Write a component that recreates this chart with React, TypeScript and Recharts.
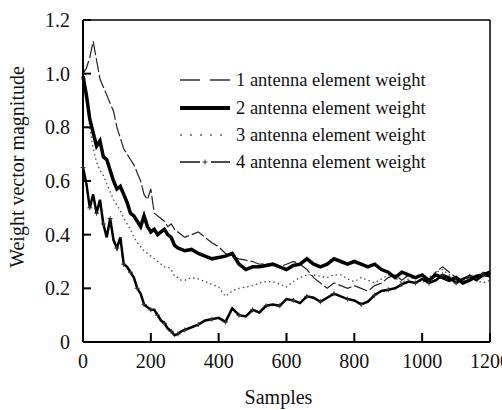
import React from "react";
import { LineChart, Line, XAxis, YAxis } from "recharts";

const samples = [
  0, 10, 20, 30, 40, 50, 60, 70, 80, 90, 100, 110, 120, 130, 140, 150, 160, 170, 180, 190,
  200, 210, 220, 230, 240, 250, 260, 270, 280, 290, 300, 320, 340, 360, 380, 400, 420, 440,
  460, 480, 500, 520, 540, 560, 580, 600, 620, 640, 660, 680, 700, 720, 740, 760, 780, 800,
  820, 840, 860, 880, 900, 920, 940, 960, 980, 1000, 1020, 1040, 1060, 1080, 1100, 1120,
  1140, 1160, 1180, 1200,
];

const weight1 = [
  1.0, 1.02, 1.06, 1.12, 1.05, 0.98, 0.95, 0.92, 0.89, 0.86, 0.8, 0.76, 0.72, 0.7, 0.68, 0.66,
  0.63, 0.6, 0.55, 0.53, 0.57, 0.48, 0.47, 0.46, 0.45, 0.43, 0.44, 0.42, 0.41, 0.4, 0.39, 0.4,
  0.41, 0.39, 0.37, 0.355, 0.33, 0.32, 0.31, 0.305, 0.3, 0.29, 0.29, 0.29, 0.28, 0.29, 0.3,
  0.29, 0.27, 0.24, 0.22, 0.2, 0.22, 0.21, 0.2, 0.21, 0.2, 0.19, 0.21, 0.22, 0.24, 0.25, 0.23,
  0.25, 0.24, 0.25, 0.23, 0.26, 0.28, 0.26, 0.24, 0.23, 0.25, 0.24, 0.26, 0.25,
];

const weight2 = [
  0.99, 0.92, 0.83, 0.78, 0.73, 0.75, 0.69, 0.68, 0.64, 0.6, 0.57, 0.58, 0.55, 0.52, 0.48,
  0.47, 0.45, 0.43, 0.47, 0.43, 0.41, 0.42, 0.4, 0.41, 0.42, 0.4, 0.39, 0.36, 0.35, 0.345,
  0.34, 0.345, 0.33, 0.32, 0.31, 0.315, 0.32, 0.33, 0.29, 0.27, 0.28, 0.28, 0.285, 0.29, 0.28,
  0.27, 0.285, 0.29, 0.31, 0.29, 0.28, 0.29, 0.31, 0.3, 0.29, 0.3, 0.29, 0.28, 0.29, 0.27,
  0.26, 0.24, 0.26, 0.25, 0.24, 0.25, 0.23, 0.25, 0.24, 0.23, 0.24, 0.22, 0.23, 0.245, 0.25,
  0.26,
];

const weight3 = [
  1.05, 0.92, 0.8, 0.72, 0.67, 0.64, 0.62, 0.59, 0.56, 0.53, 0.51, 0.49, 0.46, 0.44, 0.42,
  0.39, 0.37, 0.355, 0.34, 0.33, 0.32, 0.31, 0.3, 0.29, 0.28, 0.28, 0.27, 0.245, 0.24, 0.23,
  0.23, 0.24, 0.235, 0.225, 0.215, 0.205, 0.17, 0.19, 0.2, 0.205, 0.21, 0.22, 0.225, 0.225,
  0.215, 0.205, 0.225, 0.24, 0.25, 0.25, 0.245, 0.24, 0.25, 0.25, 0.235, 0.225, 0.24, 0.23,
  0.22, 0.235, 0.25, 0.24, 0.22, 0.235, 0.24, 0.22, 0.24, 0.26, 0.27, 0.25, 0.23, 0.22, 0.24,
  0.23, 0.22, 0.23,
];

const weight4 = [
  0.65, 0.59, 0.5, 0.55, 0.48, 0.53, 0.44, 0.39, 0.46, 0.38, 0.35, 0.39, 0.29, 0.28, 0.26,
  0.24, 0.2, 0.18, 0.14, 0.13, 0.12, 0.12, 0.1, 0.08, 0.07, 0.05, 0.04, 0.025, 0.03, 0.04,
  0.045, 0.055, 0.065, 0.08, 0.085, 0.09, 0.075, 0.125, 0.1, 0.095, 0.12, 0.11, 0.135, 0.14,
  0.135, 0.16, 0.155, 0.145, 0.17, 0.165, 0.15, 0.165, 0.18, 0.17, 0.16, 0.155, 0.14, 0.15,
  0.175, 0.19, 0.195, 0.2, 0.215, 0.225, 0.22, 0.235, 0.22, 0.23, 0.25, 0.24, 0.22, 0.235,
  0.245, 0.23, 0.25, 0.245,
];

const xTicks = [0, 200, 400, 600, 800, 1000, 1200];
const yTicks = [0, 0.2, 0.4, 0.6, 0.8, 1.0, 1.2];
const legendLabels = [
  "1 antenna element weight",
  "2 antenna element weight",
  "3 antenna element weight",
  "4 antenna element weight",
];

const data = samples.map((s, i) => ({
  s,
  w1: weight1[i],
  w2: weight2[i],
  w3: weight3[i],
  w4: weight4[i],
}));

const font = "Times New Roman, Liberation Serif, serif";

const CrossDot = (props: any) => {
  const { cx, cy, index } = props;
  if (cx == null || cy == null) return null;
  if (index != null && index % 2 === 1) return null;
  return (
    <g stroke="#333" strokeWidth={1}>
      <line x1={cx - 2.5} y1={cy} x2={cx + 2.5} y2={cy} />
      <line x1={cx} y1={cy - 2.5} x2={cx} y2={cy + 2.5} />
    </g>
  );
};

const Tick = (props: any) => {
  const { x, y, payload, textAnchor, fmt } = props;
  const label = fmt ? fmt(payload.value) : String(payload.value);
  const anchor = textAnchor || "middle";
  return (
    <text
      x={x}
      y={anchor === "middle" ? y + 15 : y + 7}
      textAnchor={anchor}
      fontSize={20}
      fill="#111"
      fontFamily={font}
    >
      {label}
    </text>
  );
};

const fmtY = (v: number) => (v === 0 ? "0" : v.toFixed(1));

const YTitle = (props: any) => {
  const vb = props.viewBox || {};
  const x = (vb.x ?? 0) + 24;
  const y = (vb.y ?? 20) + (vb.height ?? 322) / 2 - 14;
  return (
    <text
      x={x}
      y={y}
      transform={`rotate(-90 ${x} ${y})`}
      textAnchor="middle"
      fontSize={20}
      fill="#111"
      fontFamily={font}
    >
      Weight vector magnitude
    </text>
  );
};

const XTitle = (props: any) => {
  const vb = props.viewBox || {};
  const x = (vb.x ?? 83) + (vb.width ?? 407) / 2 - 8;
  return (
    <text x={x} y={404} textAnchor="middle" fontSize={20} fill="#111" fontFamily={font}>
      Samples
    </text>
  );
};

function LegendBox() {
  const rows = [80, 108, 135, 162];
  return (
    <svg
      width={502}
      height={410}
      style={{ position: "absolute", left: 0, top: 0, pointerEvents: "none" }}
    >
      <rect x={176} y={66} width={252} height={108} fill="#fff" />
      <line x1={180} y1={rows[0]} x2={230} y2={rows[0]} stroke="#333" strokeWidth={1.6} strokeDasharray="20 10" />
      <line x1={180} y1={rows[1]} x2={230} y2={rows[1]} stroke="#000" strokeWidth={4} />
      <line x1={180} y1={rows[2]} x2={230} y2={rows[2]} stroke="#666" strokeWidth={1.6} strokeDasharray="2 8" />
      <line x1={180} y1={rows[3]} x2={200} y2={rows[3]} stroke="#222" strokeWidth={1.6} />
      <line x1={211} y1={rows[3]} x2={230} y2={rows[3]} stroke="#222" strokeWidth={1.6} />
      <CrossDot cx={205} cy={rows[3]} />
      {legendLabels.map((t, i) => (
        <text key={t} x={236} y={rows[i] + 6} fontSize={18.5} fill="#111" fontFamily={font}>
          {t}
        </text>
      ))}
    </svg>
  );
}

export default function App() {
  return (
    <div style={{ position: "absolute", left: 0, top: 0, width: 502, height: 410, background: "#fff" }}>
      <LineChart
        width={502}
        height={410}
        data={data}
        margin={{ top: 19, right: 11, left: 0, bottom: 0 }}
      >
        <XAxis
          dataKey="s"
          type="number"
          domain={[0, 1200]}
          ticks={xTicks}
          interval={0}
          height={68}
          tickSize={-9}
          tickMargin={20}
          stroke="#000"
          strokeWidth={2}
          tick={<Tick />}
          label={<XTitle />}
        />
        <XAxis
          xAxisId="top"
          orientation="top"
          dataKey="s"
          type="number"
          domain={[0, 1200]}
          ticks={xTicks}
          height={1}
          tickSize={-5}
          tick={false}
          stroke="#000"
          strokeWidth={1.5}
        />
        <YAxis
          type="number"
          domain={[0, 1.2]}
          ticks={yTicks}
          interval={0}
          width={83}
          tickSize={-8}
          tickMargin={21}
          stroke="#000"
          strokeWidth={2}
          tick={<Tick fmt={fmtY} />}
          label={<YTitle />}
        />
        <YAxis
          yAxisId="right"
          orientation="right"
          type="number"
          domain={[0, 1.2]}
          ticks={yTicks}
          width={1}
          tickSize={-5}
          tick={false}
          stroke="#000"
          strokeWidth={1.5}
        />
        <Line dataKey="w3" type="linear" stroke="#555" strokeWidth={1.4} strokeDasharray="1.5 3" dot={false} isAnimationActive={false} />
        <Line dataKey="w1" type="linear" stroke="#222" strokeWidth={1.2} strokeDasharray="14 3" dot={false} isAnimationActive={false} />
        <Line dataKey="w4" type="linear" stroke="#000" strokeWidth={2.5} dot={<CrossDot />} isAnimationActive={false} />
        <Line dataKey="w2" type="linear" stroke="#000" strokeWidth={3.5} dot={false} isAnimationActive={false} />
      </LineChart>
      <LegendBox />
    </div>
  );
}
